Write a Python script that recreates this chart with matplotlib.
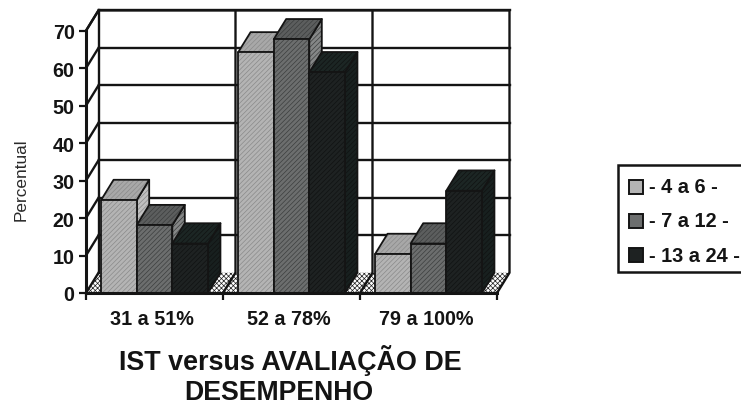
import matplotlib
matplotlib.use('Agg')
import matplotlib.pyplot as plt
from matplotlib.patches import Polygon, Rectangle

plt.rcParams['font.family'] = ['Liberation Sans', 'DejaVu Sans']
plt.rcParams['hatch.linewidth'] = 0.5

categories = ['31 a 51%', '52 a 78%', '79 a 100%']
series_names = ['- 4 a 6 -', '- 7 a 12 -', '- 13 a 24 -']
series_values = [
    [24.8, 64.2, 10.4],
    [18.1, 67.7, 13.2],
    [13.2, 58.9, 27.3],
]
y_ticks = [0, 10, 20, 30, 40, 50, 60, 70]

front_colors = ['#b4b4b4', '#6c6e6e', '#1e2222']
top_colors = ['#a8a8a8', '#5c5e5e', '#1c2624']
side_colors = ['#c0c0c0', '#858787', '#18201f']
hatch_colors = ['#8a8a8a', '#3c3e3e', '#101212']

W, H = 741, 406
fig = plt.figure(figsize=(W / 100, H / 100), dpi=100)
ax = fig.add_axes([86 / W, 1 - 294 / H, 411 / W, 262.3 / H])
ax.set_xlim(0, 3)
ax.set_ylim(0, 70)
ax.patch.set_visible(False)

# depth of the fake 3D box, in data units
dx = 12.5 / 137
dy = 20.3 / 3.75
lw = 1.7
ink = '#141414'


def line(xs, ys, z=1, width=lw):
    ax.plot(xs, ys, color=ink, lw=width, zorder=z, clip_on=False, solid_capstyle='projecting')


def face(pts, color, hatch_color, hatch='///////', z=3):
    ax.add_patch(Polygon(pts, closed=True, facecolor=color, edgecolor=hatch_color,
                         hatch=hatch, lw=0, zorder=z, clip_on=False))
    ax.add_patch(Polygon(pts, closed=True, fill=False, edgecolor=ink, lw=1.3,
                         zorder=z, clip_on=False, joinstyle='round'))


# floor
ax.add_patch(Polygon([(0, 0), (3, 0), (3 + dx, dy), (dx, dy)], closed=True, facecolor='white',
                     edgecolor='#202020', hatch='xxxxxxx', lw=0, zorder=0.5, clip_on=False))

# back wall, side wall and gridlines
for t in y_ticks:
    if t > 0:
        line([dx, 3 + dx], [t + dy, t + dy])
    line([0, dx], [t, t + dy])
line([0, dx, 3 + dx, 3 + dx, 3], [70, 70 + dy, 70 + dy, dy, 0])
line([dx, dx], [dy, 70 + dy])
for g in range(1, 3):
    line([g + dx, g + dx, g], [70 + dy, dy, 0])
line([0, 3], [0, 0], z=20, width=2.2)
line([0, 0], [0, 70], width=2.2)

# bars, left to right so each one covers the side of the previous
bar_w = 0.26
margin = 0.11
for g in range(len(categories)):
    for s, values in enumerate(series_values):
        v = values[g]
        x0 = g + margin + s * bar_w
        x1 = x0 + bar_w
        z = 3 + g * 3 + s * 0.3
        face([(x1, 0), (x1 + dx, dy), (x1 + dx, v + dy), (x1, v)], side_colors[s], hatch_colors[s], z=z)
        face([(x0, v), (x1, v), (x1 + dx, v + dy), (x0 + dx, v + dy)], top_colors[s], hatch_colors[s], z=z + 0.1)
        face([(x0, 0), (x1, 0), (x1, v), (x0, v)], front_colors[s], hatch_colors[s], z=z + 0.2)

for sp in ax.spines.values():
    sp.set_visible(False)
ax.set_yticks(y_ticks)
ax.set_xticks(range(4))
ax.set_xticklabels([])
ax.tick_params(axis='both', length=5, width=1.6, color=ink)
ax.tick_params(axis='y', labelsize=14.2, pad=3.2, labelcolor=ink)
for lab in ax.get_yticklabels():
    lab.set_fontweight('bold')
for g, name in enumerate(categories):
    ax.text(g + 0.482, -6.9, name, ha='center', va='center', fontsize=14.2, fontweight='bold', color=ink)

fig.text(21.5 / W, 1 - 180 / H, 'Percentual', rotation=90, ha='center', va='center',
         fontsize=12.4, color='#2a2a2a')
fig.text(290.5 / W, 1 - 361 / H, 'IST versus AVALIAÇÃO DE', ha='center', va='center',
         fontsize=19.4, fontweight='bold', color=ink)
fig.text(279 / W, 1 - 393.5 / H, 'DESEMPENHO', ha='center', va='center',
         fontsize=19.2, fontweight='bold', color=ink)

# legend box runs off the right edge
fig.add_artist(Rectangle((617.5 / W, 1 - 273 / H), 130 / W, 107 / H, transform=fig.transFigure,
                         facecolor='white', edgecolor=ink, lw=1.8))
for s, name in enumerate(series_names):
    yc = 188 + s * 34
    fig.add_artist(Rectangle((629 / W, 1 - (yc + 7) / H), 14 / W, 14 / H, transform=fig.transFigure,
                             facecolor=front_colors[s], edgecolor=ink, lw=1.4))
    fig.text(649 / W, 1 - yc / H, name, ha='left', va='center', fontsize=14.4, fontweight='bold', color=ink)

fig.savefig('out.png', dpi=100)
